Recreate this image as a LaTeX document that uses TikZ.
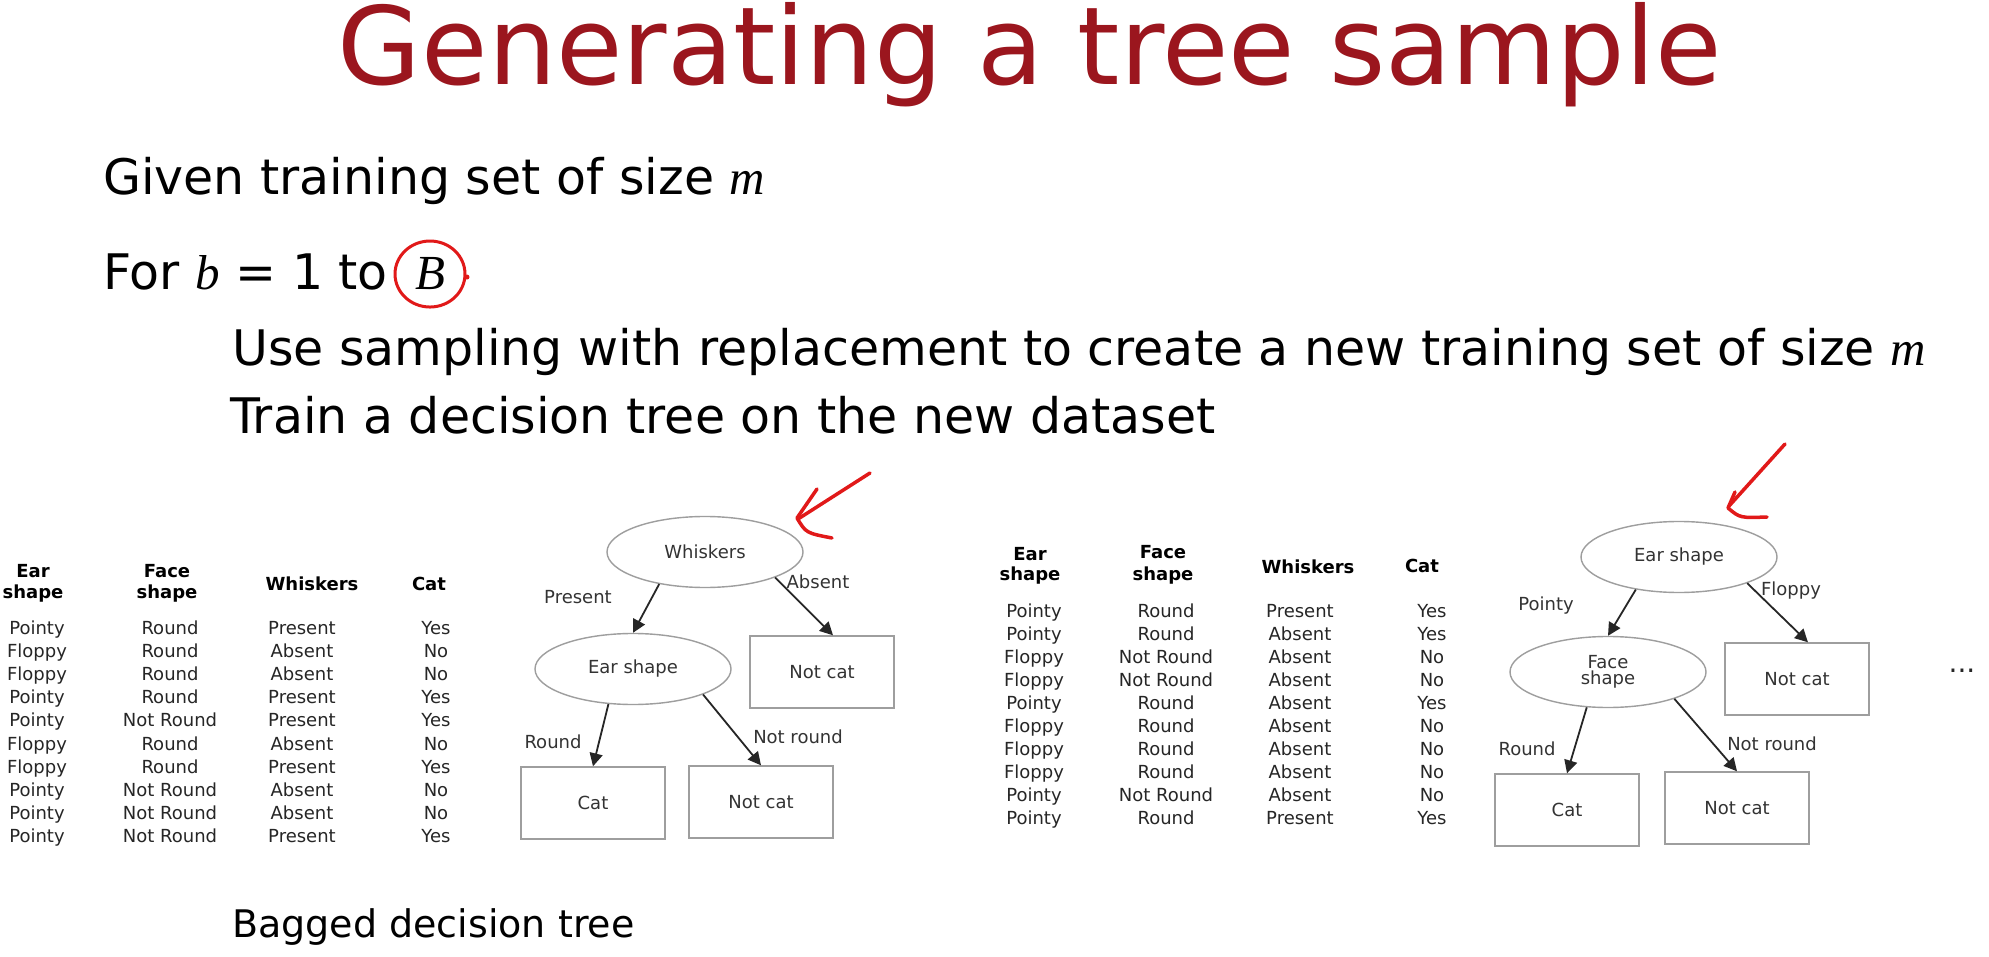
\documentclass[tikz,border=0pt]{standalone}
\usepackage{fontspec}
\setmainfont{DejaVu Sans}
\newfontfamily\mvfont{Liberation Serif}
\usetikzlibrary{shapes.geometric,arrows.meta,calc}
\definecolor{titlered}{RGB}{155,22,30}
\definecolor{inkred}{RGB}{225,25,25}
\newcommand{\setfs}[1]{\fontsize{#1}{#1}\selectfont}
\newcommand{\mv}[1]{{\mvfont\itshape #1}}
\begin{document}
\begin{tikzpicture}[x=1pt,y=-1pt,
  cell/.style={anchor=base,font={\setfs{18}},text=black!85,inner sep=0},
  hdr/.style={anchor=base,font={\setfs{18}\bfseries},text=black,inner sep=0},
  ell/.style={ellipse,draw=black!38,line width=1.4pt,minimum width=196pt,minimum height=71pt,inner sep=0,font={\setfs{18}},text=black!80,align=center},
  leaf/.style={rectangle,draw=black!38,line width=1.4pt,minimum width=144pt,minimum height=72pt,inner sep=0,font={\setfs{18}},text=black!80},
  arr/.style={draw=black!85,line width=1.8pt,-{Triangle[length=13pt,width=13pt]}},
  lbl/.style={anchor=base,font={\setfs{18}},text=black!80,inner sep=0},
  ink/.style={draw=inkred,line width=3.5pt,line cap=round,line join=round},
  body/.style={anchor=base west,font={\setfs{49}},inner sep=0},
]
\fill[white] (0,0) rectangle (1989,957);
\useasboundingbox (0,0) rectangle (1989,957);

% title
\node[anchor=base,font={\setfs{108}},text=titlered,inner sep=0] (title) at (1030,85) {Generating a tree sample};

% body text
\node[body] (given) at (103,195) {Given training set of size \mv{m}};
\node[body] (for) at (103,290) {For \mv{b} = 1 to};
\node[anchor=base,font={\setfs{49}},inner sep=0] (B) at (430,290) {\mv{B}};
\node[body] (use) at (232,366) {Use sampling with replacement to create a new training set of size \mv{m}};
\node[body] (train) at (230,433) {Train a decision tree on the new dataset};
\node[anchor=base west,font={\setfs{38}},inner sep=0] (bagged) at (232,937) {Bagged decision tree};

% red circle around B
\draw[ink,line width=3pt] (B.center) ellipse [x radius=35pt,y radius=33pt];
\fill[inkred] ([shift={(37pt,-3pt)}]B.center) circle (2.5pt);

% table 1
\node[hdr] (t1h1a) at (33,577) {Ear};
\node[hdr] (t1h1b) at (33,598) {shape};
\node[hdr] (t1h2a) at (167,577) {Face};
\node[hdr] (t1h2b) at (167,598) {shape};
\node[hdr] (t1h3) at (312,590) {Whiskers};
\node[hdr] (t1h4) at (429,590) {Cat};
\foreach \e/\f/\w/\c [count=\i from 0] in {
  Pointy/Round/Present/Yes,
  Floppy/Round/Absent/No,
  Floppy/Round/Absent/No,
  Pointy/Round/Present/Yes,
  Pointy/Not Round/Present/Yes,
  Floppy/Round/Absent/No,
  Floppy/Round/Present/Yes,
  Pointy/Not Round/Absent/No,
  Pointy/Not Round/Absent/No,
  Pointy/Not Round/Present/Yes}{
  \node[cell] (t1e\i) at (37,634+23.2*\i) {\e};
  \node[cell] (t1f\i) at (170,634+23.2*\i) {\f};
  \node[cell] (t1w\i) at (302,634+23.2*\i) {\w};
  \node[cell] (t1c\i) at (436,634+23.2*\i) {\c};
}

% table 2
\node[hdr] (t2h1a) at (1030,560) {Ear};
\node[hdr] (t2h1b) at (1030,580) {shape};
\node[hdr] (t2h2a) at (1163,558) {Face};
\node[hdr] (t2h2b) at (1163,580) {shape};
\node[hdr] (t2h3) at (1308,573) {Whiskers};
\node[hdr] (t2h4) at (1422,572) {Cat};
\foreach \e/\f/\w/\c [count=\i from 0] in {
  Pointy/Round/Present/Yes,
  Pointy/Round/Absent/Yes,
  Floppy/Not Round/Absent/No,
  Floppy/Not Round/Absent/No,
  Pointy/Round/Absent/Yes,
  Floppy/Round/Absent/No,
  Floppy/Round/Absent/No,
  Floppy/Round/Absent/No,
  Pointy/Not Round/Absent/No,
  Pointy/Round/Present/Yes}{
  \node[cell] (t2e\i) at (1034,617+23.1*\i) {\e};
  \node[cell] (t2f\i) at (1166,617+23.1*\i) {\f};
  \node[cell] (t2w\i) at (1300,617+23.1*\i) {\w};
  \node[cell] (t2c\i) at (1432,617+23.1*\i) {\c};
}

% tree 1
\node[ell] (wh) at (705,552) {Whiskers};
\node[ell] (es) at (633,669) {Ear shape};
\node[leaf] (nc1) at (822,672) {Not cat};
\node[leaf] (cat1) at (593,803) {Cat};
\node[leaf] (nc2) at (761,802) {Not cat};
\draw[arr] (wh.215) -- (es.north);
\draw[arr] (wh.340) -- ([xshift=11pt]nc1.north);
\draw[arr] (es.235) -- (cat1.north);
\draw[arr] (es.340) -- (nc2.north);
\node[lbl] (l1) at (578,603) {Present};
\node[lbl] (l2) at (818,588) {Absent};
\node[lbl] (l3) at (553,748) {Round};
\node[lbl] (l4) at (798,743) {Not round};

% tree 2
\node[ell] (e2) at (1679,557) {Ear shape};
\node[ell] (fs) at (1608,672) {Face\\[-2pt]shape};
\node[leaf] (nc3) at (1797,679) {Not cat};
\node[leaf] (cat2) at (1567,810) {Cat};
\node[leaf] (nc4) at (1737,808) {Not cat};
\draw[arr] (e2.217) -- (fs.north);
\draw[arr] (e2.339) -- ([xshift=11pt]nc3.north);
\draw[arr] (fs.239) -- (cat2.north);
\draw[arr] (fs.338) -- (nc4.north);
\node[lbl] (l5) at (1546,610) {Pointy};
\node[lbl] (l6) at (1791,595) {Floppy};
\node[lbl] (l7) at (1527,755) {Round};
\node[lbl] (l8) at (1772,750) {Not round};
\node[anchor=base,font={\setfs{28}},text=black!85,inner sep=0] (dots) at (1962,672) {...};

% red hand-drawn arrows
\draw[ink] (870,473) -- (798,519);
\draw[ink] (817,489) -- (797,518) .. controls (806,533) .. (832,538);
\draw[ink] (1785,444) -- (1729,506);
\draw[ink] (1735,492) -- (1728,508) .. controls (1740,518) .. (1767,517);
\end{tikzpicture}
\end{document}
